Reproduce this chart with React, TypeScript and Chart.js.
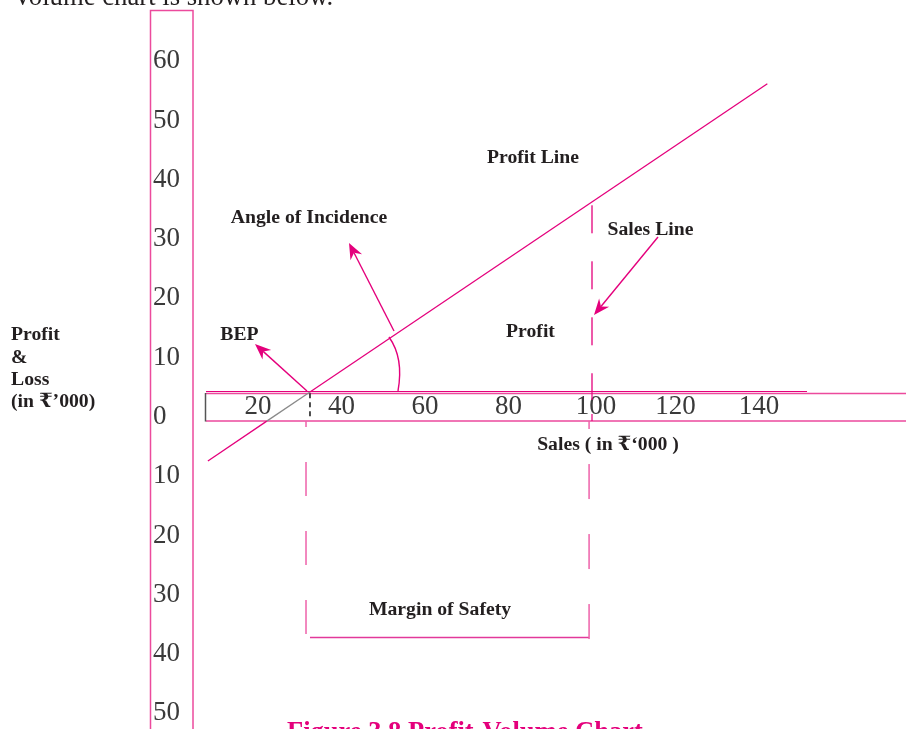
import { useEffect, useRef } from "react";
import { Chart, registerables } from "chart.js";
Chart.register(...registerables);

const W = 906;
const H = 729;

// Profit line: sales (₹'000) against profit / loss (₹'000)
const profitSales = [8, 22.1, 32.45, 142];
const profitValues = [-11.64, -4.91, 0, 52.0];

// Axis tick labels
const salesTicks = [20, 40, 60, 80, 100, 120, 140];
const profitTicks = [60, 50, 40, 30, 20, 10, 0, -10, -20, -30, -40, -50];

// Key values
const bepSales = 32.45;
const actualSales = 100;
const profitAtSales = 31.5;
const axisBandBottom = -4.9;
const mosLevel = -41.4;
const mosLeftSales = 31.5;
const mosRightSales = 99.3;
const mosLeftEnd = -41.2;
const mosRightEnd = -41.7;

const PINK = "#e4007c";
const LIGHT_PINK = "#ee62aa";
const FRAME_PINK = "#ec4a9d";
const INK = "#231f20";
const TICK_INK = "#3a3a3a";
const SERIF = "'Liberation Serif', 'DejaVu Serif', serif";

function arrow(ctx: CanvasRenderingContext2D, x0: number, y0: number, x1: number, y1: number) {
  const a = Math.atan2(y1 - y0, x1 - x0);
  const len = 16;
  const hw = 6.5;
  const notch = 11;
  ctx.save();
  ctx.strokeStyle = PINK;
  ctx.fillStyle = PINK;
  ctx.lineWidth = 1.4;
  ctx.beginPath();
  ctx.moveTo(x0, y0);
  ctx.lineTo(x1 - Math.cos(a) * notch, y1 - Math.sin(a) * notch);
  ctx.stroke();
  const bx = x1 - Math.cos(a) * len;
  const by = y1 - Math.sin(a) * len;
  const nx = -Math.sin(a);
  const ny = Math.cos(a);
  ctx.beginPath();
  ctx.moveTo(x1, y1);
  ctx.lineTo(bx + nx * hw, by + ny * hw);
  ctx.lineTo(x1 - Math.cos(a) * notch, y1 - Math.sin(a) * notch);
  ctx.lineTo(bx - nx * hw, by - ny * hw);
  ctx.closePath();
  ctx.fill();
  ctx.restore();
}

const decorPlugin = {
  id: "pvDecor",
  beforeDatasetsDraw(chart: any) {
    const { ctx } = chart;
    const xs = chart.scales.x;
    const ys = chart.scales.y;
    const y0 = ys.getPixelForValue(0);
    const yb = ys.getPixelForValue(axisBandBottom);
    ctx.save();
    // vertical axis frame
    ctx.strokeStyle = FRAME_PINK;
    ctx.lineWidth = 1.5;
    ctx.strokeRect(150.5, 10.5, 42.5, 740);
    // horizontal axis band
    ctx.beginPath();
    ctx.moveTo(206, y0 + 1.5);
    ctx.lineTo(W + 5, y0 + 1.5);
    ctx.moveTo(206, yb);
    ctx.lineTo(W + 5, yb);
    ctx.stroke();
    ctx.strokeStyle = "#555";
    ctx.beginPath();
    ctx.moveTo(205.5, y0 + 1);
    ctx.lineTo(205.5, yb + 0.5);
    ctx.stroke();
    // zero line above the band
    ctx.strokeStyle = PINK;
    ctx.lineWidth = 1.1;
    ctx.beginPath();
    ctx.moveTo(206, y0 - 0.5);
    ctx.lineTo(xs.getPixelForValue(151.5), y0 - 0.5);
    ctx.stroke();

    // tick labels
    ctx.fillStyle = TICK_INK;
    ctx.font = `27px ${SERIF}`;
    ctx.textAlign = "left";
    ctx.textBaseline = "alphabetic";
    profitTicks.forEach((v) => {
      ctx.fillText(String(Math.abs(v)), 153, ys.getPixelForValue(v) + 23 + 9);
    });
    ctx.textAlign = "center";
    salesTicks.forEach((v) => {
      ctx.fillText(String(v), xs.getPixelForValue(v) + (v === 100 ? 4 : 0), y0 + 21.5);
    });
    ctx.restore();
  },
  afterDatasetsDraw(chart: any) {
    const { ctx } = chart;
    const xs = chart.scales.x;
    const ys = chart.scales.y;
    const bx = xs.getPixelForValue(bepSales);
    const by = ys.getPixelForValue(0);
    ctx.save();

    // angle of incidence arc
    ctx.strokeStyle = PINK;
    ctx.lineWidth = 1.4;
    ctx.beginPath();
    ctx.moveTo(bx + 88, by - 1);
    ctx.quadraticCurveTo(bx + 94, by - 34, bx + 79, by - 55);
    ctx.stroke();

    // arrows
    arrow(ctx, bx - 3, by - 1, 255, 344);
    arrow(ctx, 394, 331, 349, 243);
    arrow(ctx, 658, 237, 594, 315);

    // bold labels
    ctx.fillStyle = INK;
    ctx.font = `bold 19.7px ${SERIF}`;
    ctx.textAlign = "center";
    ctx.fillText("Profit Line", 533, 163);
    ctx.fillText("Angle of Incidence", 309, 223);
    ctx.fillText("Sales Line", 650.5, 235);
    ctx.fillText("Profit", 530.5, 337);
    ctx.fillText("BEP", 239.5, 340);
    ctx.fillText("Sales ( in ₹‘000 )", 608, 450);
    ctx.fillText("Margin of Safety", 440, 615);
    ctx.textAlign = "left";
    ctx.fillText("Profit", 11, 340);
    ctx.fillText("&", 11, 363);
    ctx.fillText("Loss", 11, 385);
    ctx.fillText("(in ₹’000)", 11, 407);

    // cropped page text
    ctx.font = `26.7px ${SERIF}`;
    ctx.fillText("Volume chart is shown below.", 13, 5);
    ctx.fillStyle = PINK;
    ctx.font = `bold 26.5px ${SERIF}`;
    ctx.fillText("Figure 3.8 Profit-Volume Chart", 287, 740);
    ctx.restore();
  },
};

export default function App() {
  const ref = useRef<HTMLCanvasElement | null>(null);
  useEffect(() => {
    if (!ref.current) return;
    const line = (xsArr: number[], ysArr: number[]) => xsArr.map((x, i) => ({ x, y: ysArr[i] }));
    const chart = new Chart(ref.current, {
      type: "scatter",
      data: {
        datasets: [
          {
            label: "Profit Line",
            data: line(profitSales, profitValues),
            showLine: true,
            borderColor: PINK,
            borderWidth: 1.3,
            pointRadius: 0,
            segment: {
              borderColor: (c: any) => (c.p0DataIndex === 1 ? "#8a8a8a" : PINK),
            },
          },
          {
            label: "Sales Line",
            data: line([actualSales, actualSales], [profitAtSales, 0]),
            showLine: true,
            borderColor: PINK,
            borderWidth: 1.3,
            borderDash: [28, 28],
            pointRadius: 0,
          },
          {
            label: "Sales in band",
            data: line([actualSales, actualSales], [0, axisBandBottom]),
            showLine: true,
            borderColor: PINK,
            borderWidth: 1.2,
            borderDash: [8, 14],
            pointRadius: 0,
          },
          {
            label: "BEP in band",
            data: line([bepSales, bepSales], [-0.2, axisBandBottom + 0.2]),
            showLine: true,
            borderColor: "#222",
            borderWidth: 1.6,
            borderDash: [5, 4],
            pointRadius: 0,
          },
          {
            label: "BEP drop",
            data: line([mosLeftSales, mosLeftSales], [axisBandBottom, mosLeftEnd]),
            showLine: true,
            borderColor: LIGHT_PINK,
            borderWidth: 1.5,
            borderDash: [34, 35],
            borderDashOffset: 28,
            pointRadius: 0,
          },
          {
            label: "Sales drop",
            data: line([mosRightSales, mosRightSales], [axisBandBottom, mosRightEnd]),
            showLine: true,
            borderColor: LIGHT_PINK,
            borderWidth: 1.5,
            borderDash: [35, 35],
            borderDashOffset: 27,
            pointRadius: 0,
          },
          {
            label: "Margin of Safety",
            data: line([bepSales, mosRightSales], [mosLevel, mosLevel]),
            showLine: true,
            borderColor: "#e2399a",
            borderWidth: 1.5,
            pointRadius: 0,
          },
        ],
      },
      options: {
        animation: false,
        responsive: true,
        maintainAspectRatio: false,
        layout: { padding: 0 },
        plugins: { legend: { display: false }, tooltip: { enabled: false } },
        events: [],
        scales: {
          x: { type: "linear", display: false, min: -174.5 / 4.175, max: (W - 174.5) / 4.175 },
          y: { type: "linear", display: false, min: -(H - 392) / 5.927, max: 392 / 5.927 },
        },
      },
      plugins: [decorPlugin],
    });
    return () => chart.destroy();
  }, []);
  return (
    <div style={{ position: "absolute", left: 0, top: 0, width: W, height: H, background: "#fff" }}>
      <canvas ref={ref} />
    </div>
  );
}
